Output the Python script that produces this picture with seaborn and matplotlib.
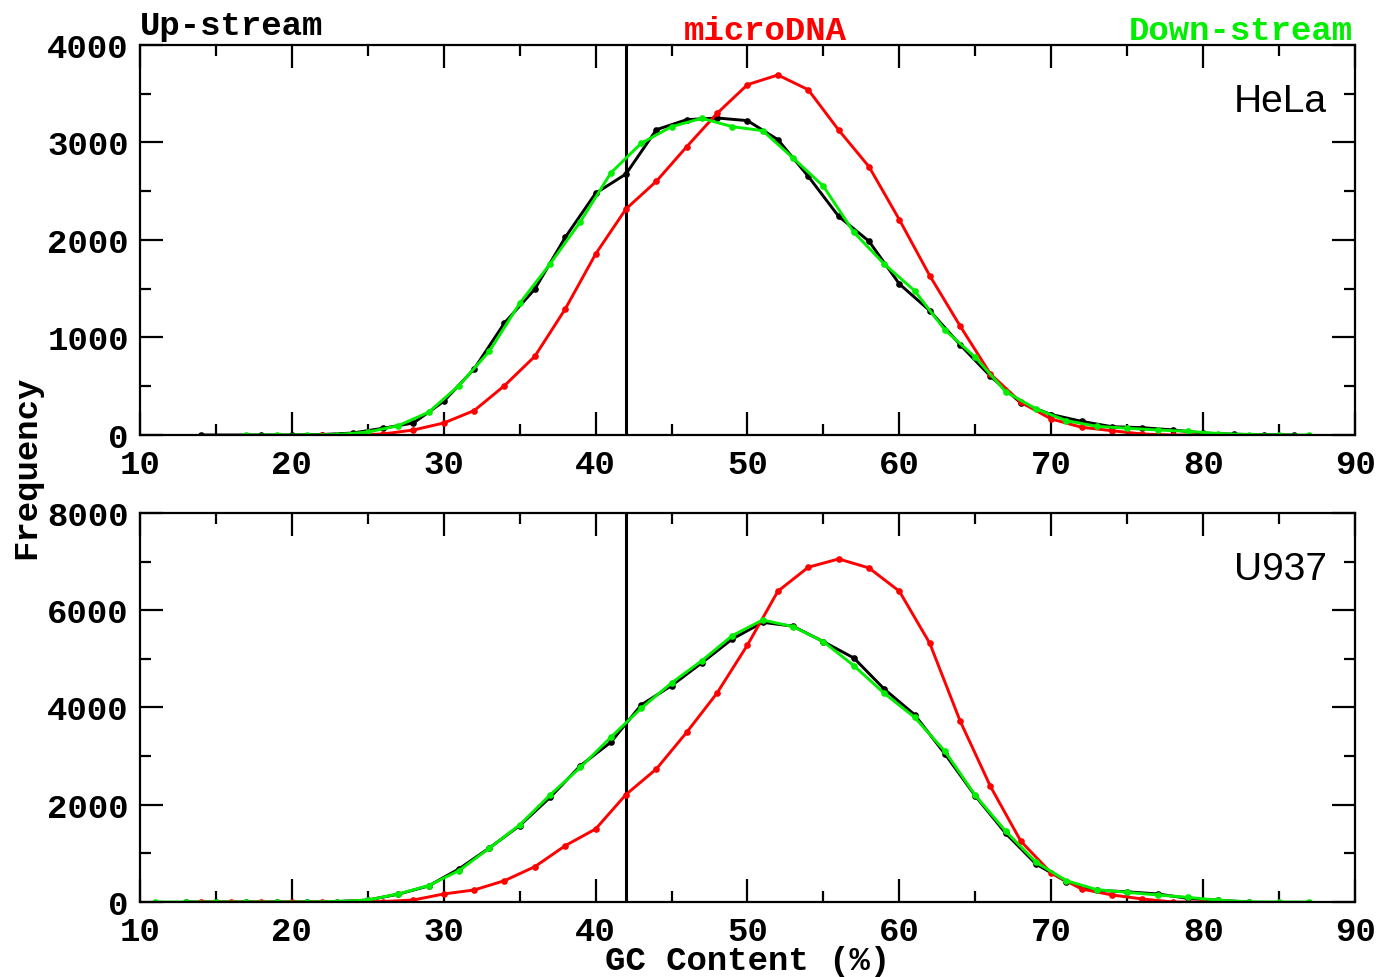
import numpy as np
import pandas as pd
import matplotlib
matplotlib.use("Agg")
import matplotlib.pyplot as plt
import seaborn as sns
from matplotlib.ticker import MultipleLocator

# ---- HeLa (top panel) ----
hela_up_x = [14, 18, 20, 22, 24, 26, 28, 30, 32, 34, 36, 38, 40, 42, 44, 46, 48, 50,
             52, 54, 56, 58, 60, 62, 64, 66, 68, 70, 72, 74, 76, 78, 80, 82, 84, 86]
hela_up_y = [0, 0, 0, 5, 20, 69, 123, 345, 677, 1149, 1497, 2027, 2479, 2677, 3131, 3234, 3251, 3224,
             3029, 2653, 2243, 1987, 1549, 1275, 925, 602, 328, 210, 140, 85, 75, 52, 20, 8, 3, 0]

hela_down_x = [17, 19, 21, 23, 25, 27, 29, 31, 33, 35, 37, 39, 41, 43, 45, 47, 49, 51,
               53, 55, 57, 59, 61, 63, 65, 67, 69, 71, 73, 75, 77, 79, 81, 83, 85, 87]
hela_down_y = [0, 0, 0, 5, 30, 95, 233, 506, 858, 1350, 1754, 2188, 2687, 2992, 3162, 3248, 3162, 3121,
               2841, 2551, 2079, 1754, 1480, 1077, 797, 444, 267, 147, 89, 69, 51, 38, 15, 5, 0, 0]

hela_micro_x = [22, 24, 26, 28, 30, 32, 34, 36, 38, 40, 42, 44, 46, 48, 50,
                52, 54, 56, 58, 60, 62, 64, 66, 68, 70, 72, 74, 76, 78, 80]
hela_micro_y = [0, 0, 10, 51, 123, 250, 506, 807, 1292, 1856, 2318, 2602, 2957, 3299, 3593,
                3692, 3541, 3128, 2752, 2208, 1634, 1118, 625, 335, 164, 79, 44, 10, 0, 0]

# ---- U937 (bottom panel) ----
u937_up_x = [13, 15, 17, 19, 21, 23, 25, 27, 29, 31, 33, 35, 37, 39, 41, 43, 45, 47, 49,
             51, 53, 55, 57, 59, 61, 63, 65, 67, 69, 71, 73, 75, 77, 79, 81, 83]
u937_up_y = [0, 0, 0, 0, 0, 10, 40, 160, 330, 680, 1110, 1570, 2150, 2804, 3284, 4051, 4449, 4920, 5408,
             5751, 5670, 5353, 5018, 4380, 3852, 3044, 2180, 1412, 780, 418, 240, 210, 165, 75, 35, 0]

u937_down_x = [11, 13, 15, 17, 19, 21, 23, 25, 27, 29, 31, 33, 35, 37, 39, 41, 43, 45, 47, 49,
               51, 53, 55, 57, 59, 61, 63, 65, 67, 69, 71, 73, 75, 77, 79, 81, 83, 85, 87]
u937_down_y = [0, 0, 0, 0, 0, 0, 10, 40, 165, 336, 645, 1104, 1584, 2200, 2770, 3386, 3984, 4504, 4963, 5477,
               5799, 5662, 5353, 4860, 4292, 3798, 3099, 2193, 1454, 816, 438, 253, 199, 144, 96, 35, 5, 0, 0]

u937_micro_x = [14, 16, 18, 20, 22, 24, 26, 28, 30, 32, 34, 36, 38, 40, 42, 44, 46, 48, 50,
                52, 54, 56, 58, 60, 62, 64, 66, 68, 70, 72, 74, 76, 78, 80]
u937_micro_y = [0, 0, 0, 0, 0, 0, 10, 41, 165, 247, 438, 726, 1158, 1501, 2210, 2735, 3490, 4298, 5285,
                6390, 6883, 7054, 6869, 6390, 5320, 3722, 2375, 1248, 596, 267, 144, 62, 0, 0]

cut_x = 42
MONO = "Liberation Mono"
GREEN = "#00ee00"
RED = "#ff0000"
FS = 24.5

sns.set_style("ticks")
plt.rcParams["font.family"] = [MONO, "DejaVu Sans"]
plt.rcParams["font.weight"] = "bold"
for key in ["text.color", "axes.labelcolor", "xtick.color", "ytick.color", "axes.edgecolor"]:
    plt.rcParams[key] = "black"

fig = plt.figure(figsize=(13.79, 9.78), dpi=100)
ax_top = fig.add_axes([0.1015, 0.5542, 0.8811, 0.3988])
ax_bot = fig.add_axes([0.1015, 0.0767, 0.8811, 0.3978])

panels = [
    (ax_top, "HeLa", 4000, 1000, (hela_up_x, hela_up_y), (hela_down_x, hela_down_y), (hela_micro_x, hela_micro_y)),
    (ax_bot, "U937", 8000, 2000, (u937_up_x, u937_up_y), (u937_down_x, u937_down_y), (u937_micro_x, u937_micro_y)),
]

for ax, name, ymax, ystep, up, down, micro in panels:
    for (xs, ys), col in [(up, "black"), (micro, RED), (down, GREEN)]:
        df = pd.DataFrame({"gc": xs, "freq": ys})
        sns.lineplot(data=df, x="gc", y="freq", ax=ax, color=col, linewidth=2.1,
                     marker="o", markersize=4.8, markeredgewidth=0, markerfacecolor=col)
    ax.axvline(cut_x, color="black", linewidth=2.2, zorder=1)
    ax.set_xlim(10, 90)
    ax.set_ylim(0, ymax)
    ax.xaxis.set_major_locator(MultipleLocator(10))
    ax.xaxis.set_minor_locator(MultipleLocator(5))
    ax.yaxis.set_major_locator(MultipleLocator(ystep))
    ax.yaxis.set_minor_locator(MultipleLocator(ystep / 2))
    ax.tick_params(which="both", direction="in", top=True, right=True, width=1.6,
                   color="black", labelcolor="black")
    ax.tick_params(which="major", length=16.5, labelsize=FS)
    ax.tick_params(axis="x", which="major", pad=10)
    ax.tick_params(axis="y", which="major", pad=8)
    ax.tick_params(which="minor", length=8)
    for lab in ax.get_xticklabels() + ax.get_yticklabels():
        lab.set_fontweight("bold")
        lab.set_fontfamily(MONO)
    for sp in ax.spines.values():
        sp.set_visible(True)
        sp.set_linewidth(1.6)
        sp.set_color("black")
    ax.set_xlabel("")
    ax.set_ylabel("")
    ax.text(0.977, 0.83, name, transform=ax.transAxes, ha="right", va="baseline",
            fontsize=28, fontweight="normal", family="Liberation Sans", color="black")

fig.text(140 / 1379, 1 - 35 / 978, "Up-stream", ha="left", va="baseline",
         fontsize=FS, fontweight="bold", color="black")
fig.text(765 / 1379, 1 - 40 / 978, "microDNA", ha="center", va="baseline",
         fontsize=FS, fontweight="bold", color=RED)
fig.text(1353 / 1379, 1 - 40 / 978, "Down-stream", ha="right", va="baseline",
         fontsize=FS, fontweight="bold", color=GREEN)
fig.text(27 / 1379, 1 - 467 / 978, "Frequency", rotation=90, ha="center", va="center",
         fontsize=FS, fontweight="bold", color="black")
fig.text(748 / 1379, 1 - 962 / 978, "GC Content (%)", ha="center", va="center",
         fontsize=FS, fontweight="bold", color="black")

fig.savefig("out.png", dpi=100)
